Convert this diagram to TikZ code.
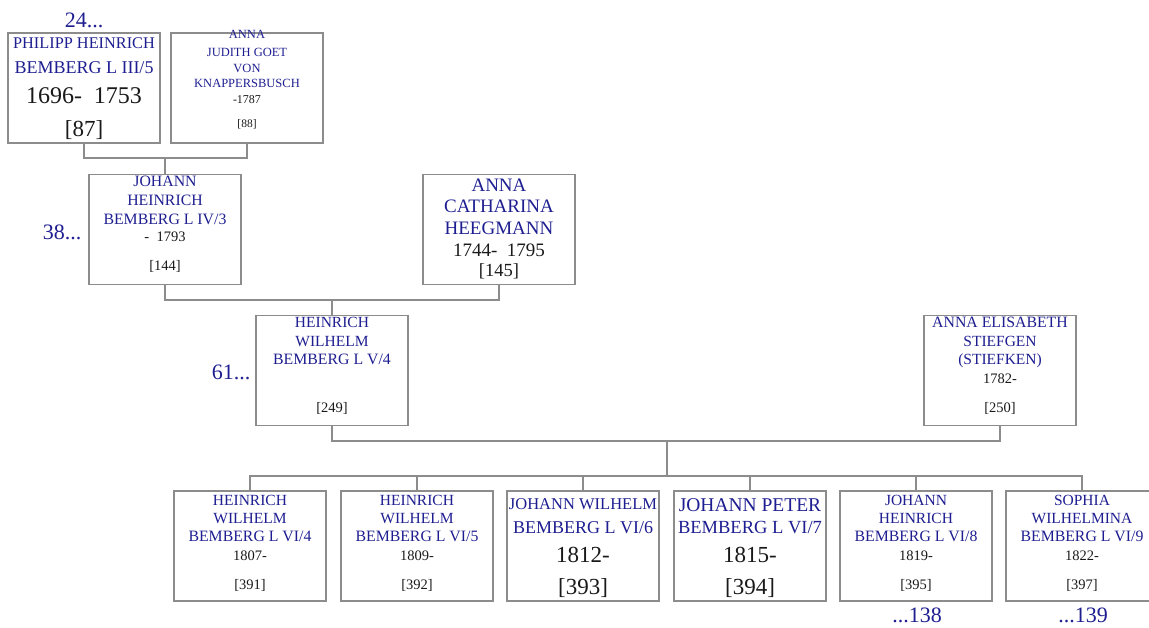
\documentclass[tikz,border=0pt]{standalone}
\usepackage{fontspec}
\setmainfont{Liberation Serif}
\definecolor{namecol}{RGB}{30,30,145}
\definecolor{datecol}{RGB}{25,25,25}
\definecolor{boxcol}{RGB}{140,140,140}
\newcommand{\fsz}[1]{\fontsize{#1}{#1}\selectfont}
\tikzset{
  pbox/.style={draw=boxcol, line width=1.1pt, minimum width=152pt, minimum height=110pt, inner sep=0pt},
  conn/.style={draw=boxcol, line width=1.1pt},
  nm/.style={text=namecol, anchor=base, inner sep=0pt},
  dt/.style={text=datecol, anchor=base, inner sep=0pt},
  side/.style={text=namecol, anchor=base, inner sep=0pt, font=\fsz{22}},
}
\begin{document}
\begin{tikzpicture}[x=1pt,y=-1pt]
\useasboundingbox (0,0) rectangle (1149,628);
% boxes
\node[pbox] (p87) at (84,88) {};
\node[pbox] (p88) at (247,88) {};
\node[pbox] (p144) at (165,229.5) {};
\node[pbox] (p145) at (499,229.5) {};
\node[pbox] (p249) at (332,370.5) {};
\node[pbox] (p250) at (1000,370.5) {};
\node[pbox] (c391) at (250,546) {};
\node[pbox] (c392) at (417,546) {};
\node[pbox] (c393) at (583,546) {};
\node[pbox] (c394) at (750,546) {};
\node[pbox] (c395) at (916,546) {};
\node[pbox] (c397) at (1082,546) {};
% connectors
\coordinate (f1) at (165,158);
\coordinate (f2) at (332,300);
\coordinate (f3) at (667,441);
\coordinate (k) at (667,476);
\draw[conn] (p87.south) |- (f1) -| (p88.south);
\draw[conn] (f1) -- (p144.north);
\draw[conn] (p144.south) |- (f2) -| (p145.south);
\draw[conn] (f2) -- (p249.north);
\draw[conn] (p249.south) |- (f3) -| (p250.south);
\draw[conn] (f3) -- (k);
\foreach \c in {c391,c392,c393,c394,c395,c397}{
  \draw[conn] (k) -| (\c.north);
}
% side labels
\node[side] (s24) at (84,28) {24...};
\node[side] (s38) at (62,240) {38...};
\node[side] (s61) at (231,380) {61...};
\node[side] (s138) at (917,622) {...138};
\node[side] (s139) at (1083,622) {...139};
% box 87
\node[nm,font=\fsz{16.3}] (t87a) at (84,49) {PHILIPP HEINRICH};
\node[nm,font=\fsz{18}] (t87b) at (84,74) {BEMBERG L III/5};
\node[dt,font=\fsz{24}] (t87c) at (84,104) {1696-\ \ 1753};
\node[dt,font=\fsz{23}] (t87d) at (84,137) {[87]};
% box 88
\node[nm,font=\fsz{12.5}] (t88a) at (247,39) {ANNA};
\node[nm,font=\fsz{12.5}] (t88b) at (247,57) {JUDITH GOET};
\node[nm,font=\fsz{12.5}] (t88c) at (247,73) {VON};
\node[nm,font=\fsz{12.5}] (t88d) at (247,88) {KNAPPERSBUSCH};
\node[dt,font=\fsz{12}] (t88e) at (247,104) {-1787};
\node[dt,font=\fsz{11.5}] (t88f) at (247,128) {[88]};
% box 144
\node[nm,font=\fsz{15.8}] (t144a) at (165,187) {JOHANN};
\node[nm,font=\fsz{15.8}] (t144b) at (165,206) {HEINRICH};
\node[nm,font=\fsz{15.8}] (t144c) at (165,225) {BEMBERG L IV/3};
\node[dt,font=\fsz{14.5}] (t144d) at (165,242) {-\ \ 1793};
\node[dt,font=\fsz{14.5}] (t144e) at (165,271) {[144]};
% box 145
\node[nm,font=\fsz{19}] (t145a) at (499,192) {ANNA};
\node[nm,font=\fsz{19}] (t145b) at (499,213) {CATHARINA};
\node[nm,font=\fsz{19}] (t145c) at (499,235) {HEEGMANN};
\node[dt,font=\fsz{19}] (t145d) at (499,257) {1744-\ \ 1795};
\node[dt,font=\fsz{18.5}] (t145e) at (499,277) {[145]};
% box 249
\node[nm,font=\fsz{15.5}] (t249a) at (332,328) {HEINRICH};
\node[nm,font=\fsz{15.5}] (t249b) at (332,347) {WILHELM};
\node[nm,font=\fsz{15.8}] (t249c) at (332,365) {BEMBERG L V/4};
\node[dt,font=\fsz{14.5}] (t249d) at (332,412) {[249]};
% box 250
\node[nm,font=\fsz{15.8}] (t250a) at (1000,328) {ANNA ELISABETH};
\node[nm,font=\fsz{15.5}] (t250b) at (1000,347) {STIEFGEN};
\node[nm,font=\fsz{15.5}] (t250c) at (1000,364) {(STIEFKEN)};
\node[dt,font=\fsz{14.5}] (t250d) at (1000,384) {1782-};
\node[dt,font=\fsz{14.5}] (t250e) at (1000,412) {[250]};
% box 391
\node[nm,font=\fsz{15.5}] (t391a) at (250,505) {HEINRICH};
\node[nm,font=\fsz{15.5}] (t391b) at (250,523) {WILHELM};
\node[nm,font=\fsz{15.8}] (t391c) at (250,541) {BEMBERG L VI/4};
\node[dt,font=\fsz{14.5}] (t391d) at (250,560) {1807-};
\node[dt,font=\fsz{14.5}] (t391e) at (250,589) {[391]};
% box 392
\node[nm,font=\fsz{15.5}] (t392a) at (417,505) {HEINRICH};
\node[nm,font=\fsz{15.5}] (t392b) at (417,523) {WILHELM};
\node[nm,font=\fsz{15.8}] (t392c) at (417,541) {BEMBERG L VI/5};
\node[dt,font=\fsz{14.5}] (t392d) at (417,560) {1809-};
\node[dt,font=\fsz{14.5}] (t392e) at (417,589) {[392]};
% box 393
\node[nm,font=\fsz{16.5}] (t393a) at (583,509) {JOHANN WILHELM};
\node[nm,font=\fsz{18}] (t393b) at (583,533) {BEMBERG L VI/6};
\node[dt,font=\fsz{23}] (t393c) at (583,562) {1812-};
\node[dt,font=\fsz{23}] (t393d) at (583,594) {[393]};
% box 394
\node[nm,font=\fsz{19.5}] (t394a) at (750,511) {JOHANN PETER};
\node[nm,font=\fsz{18.5}] (t394b) at (750,533) {BEMBERG L VI/7};
\node[dt,font=\fsz{23}] (t394c) at (750,562) {1815-};
\node[dt,font=\fsz{23}] (t394d) at (750,594) {[394]};
% box 395
\node[nm,font=\fsz{15.5}] (t395a) at (916,505) {JOHANN};
\node[nm,font=\fsz{15.5}] (t395b) at (916,523) {HEINRICH};
\node[nm,font=\fsz{15.8}] (t395c) at (916,541) {BEMBERG L VI/8};
\node[dt,font=\fsz{14.5}] (t395d) at (916,560) {1819-};
\node[dt,font=\fsz{14.5}] (t395e) at (916,589) {[395]};
% box 397
\node[nm,font=\fsz{15.5}] (t397a) at (1082,505) {SOPHIA};
\node[nm,font=\fsz{15.5}] (t397b) at (1082,523) {WILHELMINA};
\node[nm,font=\fsz{15.8}] (t397c) at (1082,541) {BEMBERG L VI/9};
\node[dt,font=\fsz{14.5}] (t397d) at (1082,560) {1822-};
\node[dt,font=\fsz{14.5}] (t397e) at (1082,589) {[397]};
\end{tikzpicture}
\end{document}
